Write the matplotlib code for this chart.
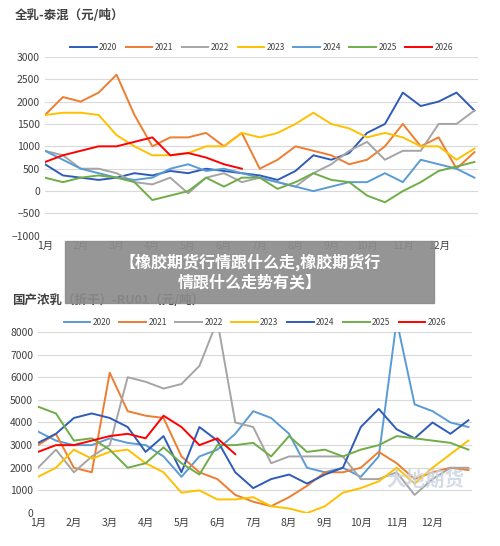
import matplotlib
matplotlib.use("Agg")
import matplotlib.pyplot as plt
import numpy as np

plt.rcParams['font.family'] = ['Noto Sans CJK SC', 'DejaVu Sans']

years = ['2020', '2021', '2022', '2023', '2024', '2025', '2026']
months = ['1月', '2月', '3月', '4月', '5月', '6月', '7月', '8月', '9月', '10月', '11月', '12月']

# top chart: 全乳-泰混, half-month points
top_2020 = [600,350,300,250,300,400,350,450,400,500,450,400,350,250,450,800,700,850,1300,1500,2200,1900,2000,2200,1800]
top_2021 = [1700,2100,2000,2200,2600,1700,1000,1200,1200,1300,1000,1300,500,700,1000,900,800,600,700,1000,1500,1000,1200,500,870]
top_2022 = [900,800,500,500,400,200,150,300,-50,300,400,200,300,200,100,400,600,900,1100,700,900,900,1500,1500,1800]
top_2023 = [1700,1750,1750,1700,1250,1000,800,800,850,1000,1000,1300,1200,1300,1500,1750,1500,1400,1200,1300,1200,1000,1000,700,950]
top_2024 = [900,700,500,400,300,250,300,500,600,450,500,400,300,200,100,0,100,200,200,400,200,700,600,500,300]
top_2025 = [300,200,300,350,300,200,-200,-100,0,300,100,300,300,50,200,400,250,200,-100,-250,0,200,450,550,650]
top_2026 = [650,800,900,1000,1000,1100,1200,800,850,750,600,500]

# bottom chart: 国产浓乳(折干)-RU01
bot_2020 = [3600,3200,3000,3000,3300,3100,3000,2500,1600,2500,2800,3500,4500,4200,3500,2000,1800,2000,1600,2500,8500,4800,4500,4000,3800]
bot_2021 = [3000,3500,2000,1800,6200,4500,4300,4200,2500,1800,1500,800,500,300,700,1200,1800,1800,2000,2700,2200,1500,1800,2000,1900]
bot_2022 = [2000,2800,1800,2500,3000,6000,5800,5500,5700,6500,8500,4000,3800,2200,2500,2500,2500,2500,1500,1500,1800,800,1500,2000,2000]
bot_2023 = [1600,2000,2800,2400,2700,2800,2200,1800,900,1000,600,600,700,300,200,0,300,900,1100,1400,2000,1300,2000,2600,3200]
bot_2024 = [3100,3500,4200,4400,4200,3800,2700,3400,1800,3800,3200,1800,1100,1500,1700,1300,1700,2000,3800,4600,3700,3300,4000,3500,4100]
bot_2025 = [4700,4400,3200,3300,2800,2000,2200,2900,2200,1700,3000,3000,3100,2500,3400,2700,2800,2500,2800,3000,3400,3300,3200,3100,2800]
bot_2026 = [2700,3000,3000,3200,3400,3500,3300,4300,3800,3000,3300,2600]

DB, OR, GR, YE, LB, GN, RD = '#2E5CB8', '#ED7D31', '#A5A5A5', '#FFC000', '#5B9BD5', '#70AD47', '#FF0000'
top_colors = [DB, OR, GR, YE, LB, GN, RD]
bot_colors = [LB, OR, GR, YE, DB, GN, RD]

fig = plt.figure(figsize=(5, 5.46), dpi=100)

def style(ax, ylim, yticks):
    ax.set_ylim(*ylim)
    ax.set_yticks(yticks)
    ax.set_xlim(0, 12.1)
    ax.set_xticks(range(12))
    ax.set_xticklabels(months)
    ax.grid(axis='y', color='#D9D9D9', lw=0.8)
    ax.set_axisbelow(True)
    for s in ax.spines.values():
        s.set_visible(False)
    ax.tick_params(length=0, labelsize=7.5, colors='#404040')

def draw(ax, series, colors):
    for y, s, c in zip(years, series, colors):
        x = np.arange(len(s)) * 0.5
        ax.plot(x, s, color=c, lw=1.4, label=y)
    ax.legend(loc='lower center', bbox_to_anchor=(0.5, 1.0), ncol=7, frameon=False,
              fontsize=6, handlelength=3.2, columnspacing=1.0, handletextpad=0.3,
              borderaxespad=0.2, labelcolor='#404040')

ax1 = fig.add_axes([0.09, 0.568, 0.866, 0.328])
draw(ax1, [top_2020, top_2021, top_2022, top_2023, top_2024, top_2025, top_2026], top_colors)
style(ax1, (-1000, 3000), range(-1000, 3001, 500))
fig.text(0.03, 0.965, '全乳-泰混（元/吨）', fontsize=9, fontweight='bold', color='#404040')

ax2 = fig.add_axes([0.076, 0.0604, 0.868, 0.3316])
draw(ax2, [bot_2020, bot_2021, bot_2022, bot_2023, bot_2024, bot_2025, bot_2026], bot_colors)
style(ax2, (0, 8000), range(0, 8001, 1000))
fig.text(0.025, 0.443, '国产浓乳（折干）-RU01（元/吨）', fontsize=9, fontweight='bold', color='#404040')

fig.text(0.85, 0.11, '大地期货', fontsize=14, color='#C8D3E0', ha='center', alpha=0.8, fontweight='bold')

fig.patches.append(plt.Rectangle((0.13, 0.445), 0.738, 0.113, transform=fig.transFigure,
                                 color='#8C8C8C', alpha=0.92, zorder=10))
fig.text(0.5, 0.502, '【橡胶期货行情跟什么走,橡胶期货行\n情跟什么走势有关】', fontsize=11.5, fontweight='bold',
         color='white', ha='center', va='center', zorder=11, linespacing=1.3)

fig.savefig('out.png', dpi=100)
